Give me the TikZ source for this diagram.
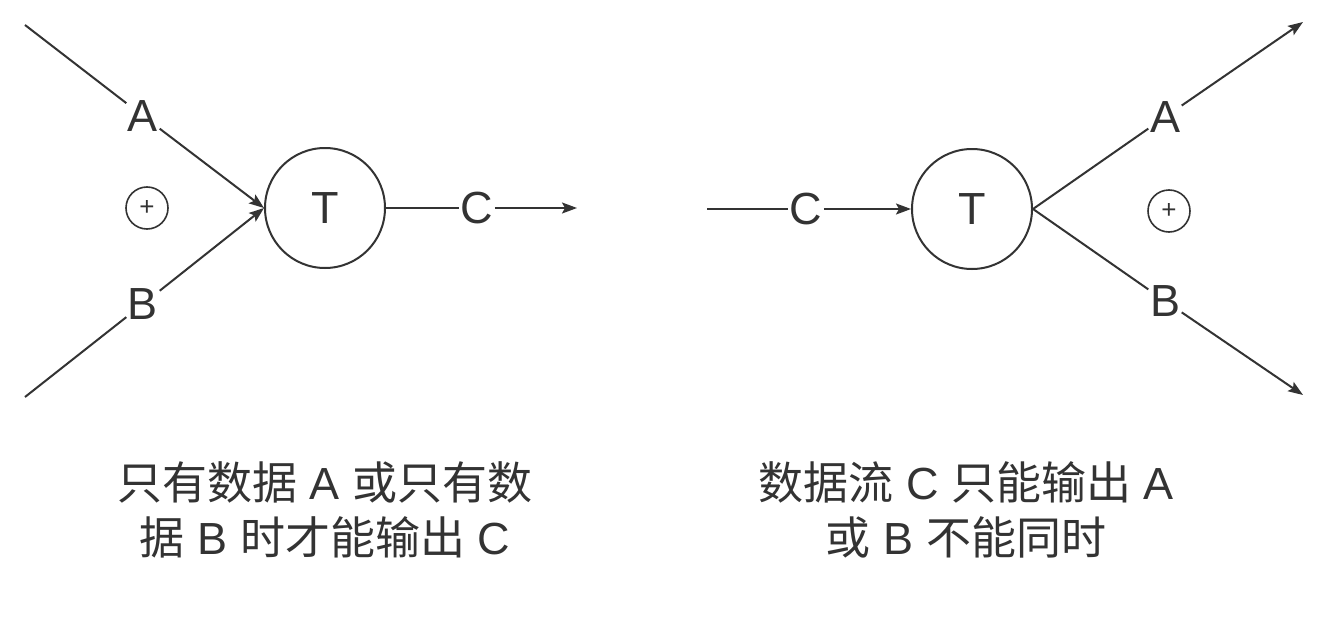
\documentclass[tikz,border=0pt]{standalone}
\usepackage{fontspec}
\setmainfont{Liberation Sans}
\newfontfamily\cjk{Noto Sans CJK SC}
\usetikzlibrary{arrows.meta}
\definecolor{ink}{HTML}{333333}
\begin{document}
\begin{tikzpicture}[x=1pt,y=-1pt,
 ln/.style={draw=ink, line width=2pt},
 arr/.style={ln, -{Stealth[length=15pt,width=11pt,inset=3pt]}},
 lbl/.style={fill=white, inner sep=1.5pt, text=ink, font=\fontsize{45}{45}\selectfont},
 tnode/.style={circle, draw=ink, line width=2pt, minimum size=120pt, inner sep=0pt, text=ink, font=\fontsize{45}{45}\selectfont},
 xor/.style={circle, draw=ink, line width=1.6pt, minimum size=42pt, inner sep=0pt, text=ink, font=\fontsize{26}{26}\selectfont},
 captext/.style={align=center, text=ink, font=\fontsize{45}{55}\selectfont}
]
\useasboundingbox[fill=white] (0,0) rectangle (1325,634);
% left
\coordinate (la) at (25,25);
\coordinate (lb) at (25,397);
\node[tnode] (T1) at (325,208) {T};
\node[lbl] (A1) at (143,116) {A};
\node[lbl] (B1) at (143,304) {B};
\node[xor] (X1) at (147,208) {\raisebox{-3pt}{+}};
\node[lbl] (C1) at (477,208) {C};
\coordinate (lc) at (577,208);
\draw[ln] (la) -- (A1);
\draw[arr] (A1) -- (T1.west);
\draw[ln] (lb) -- (B1);
\draw[arr] (B1) -- (T1.west);
\draw[ln] (T1) -- (C1);
\draw[arr] (C1) -- (lc);
% right
\coordinate (rc) at (707,209);
\node[lbl] (C2) at (806,209) {C};
\node[tnode] (T2) at (972,209) {T};
\node[lbl] (A2) at (1165,117) {A};
\node[lbl] (B2) at (1165,301) {B};
\node[xor] (X2) at (1169,211) {\raisebox{-3pt}{+}};
\coordinate (ra) at (1303,22);
\coordinate (rb) at (1303,395);
\draw[ln] (rc) -- (C2);
\draw[arr] (C2) -- (T2.west);
\draw[ln] (T2.east) -- (A2);
\draw[arr] (A2) -- (ra);
\draw[ln] (T2.east) -- (B2);
\draw[arr] (B2) -- (rb);
% captions
\node[captext] (L) at (325,510) {{\cjk 只有数据} A {\cjk 或只有数}\\{\cjk 据} B {\cjk 时才能输出} C};
\node[captext] (R) at (966,510) {{\cjk 数据流} C {\cjk 只能输出} A\\{\cjk 或} B {\cjk 不能同时}};
\end{tikzpicture}
\end{document}
